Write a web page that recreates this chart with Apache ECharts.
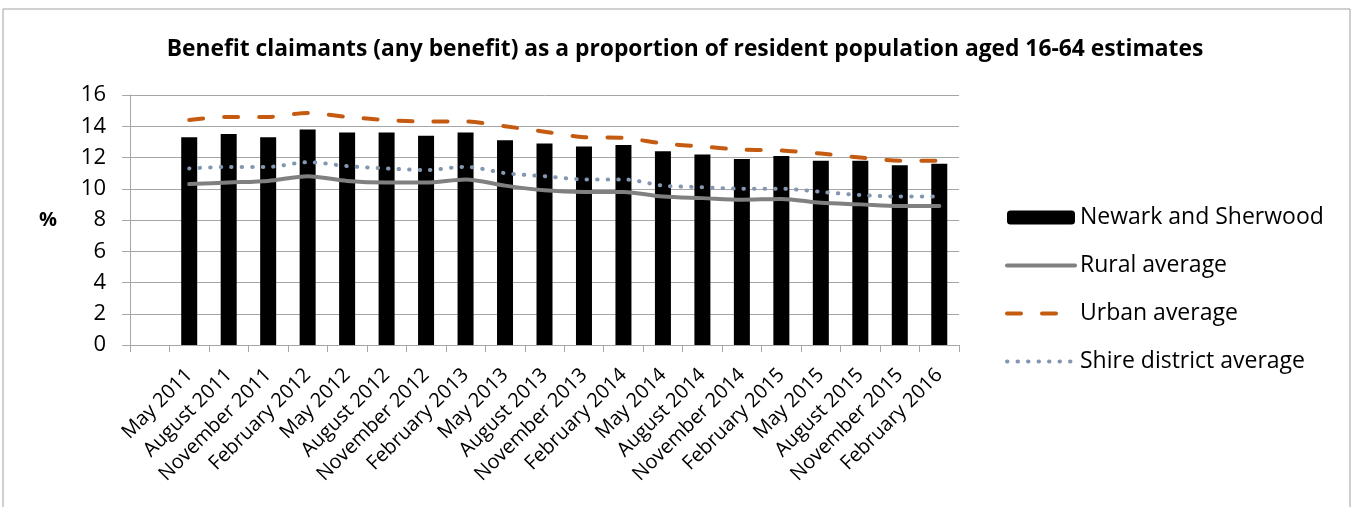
<!DOCTYPE html>
<html>
<head>
<meta charset="utf-8">
<script src="https://cdn.jsdelivr.net/npm/echarts@6/dist/echarts.min.js"></script>
<style>
  html, body { margin: 0; padding: 0; background: #fff; }
  #chart { width: 1354px; height: 507px; }
</style>
</head>
<body>
<div id="chart"></div>
<script>
// first category is left empty in the original chart
const categories = ['', 'May 2011', 'August 2011', 'November 2011', 'February 2012', 'May 2012', 'August 2012',
  'November 2012', 'February 2013', 'May 2013', 'August 2013', 'November 2013', 'February 2014',
  'May 2014', 'August 2014', 'November 2014', 'February 2015', 'May 2015', 'August 2015',
  'November 2015', 'February 2016']

const newarkSherwood = ['-', 13.3, 13.5, 13.3, 13.8, 13.6, 13.6, 13.4, 13.6, 13.1, 12.9, 12.7, 12.8,
  12.4, 12.2, 11.9, 12.1, 11.8, 11.8, 11.5, 11.6]
const ruralAvg = ['-', 10.3, 10.4, 10.5, 10.8, 10.5, 10.4, 10.4, 10.6, 10.2, 9.9, 9.8, 9.8,
  9.5, 9.4, 9.3, 9.35, 9.1, 9.0, 8.9, 8.9]
const urbanAvg = ['-', 14.4, 14.6, 14.6, 14.85, 14.6, 14.4, 14.3, 14.3, 14.0, 13.65, 13.3, 13.25,
  12.9, 12.7, 12.5, 12.45, 12.25, 12.0, 11.8, 11.8]
const shireAvg = ['-', 11.3, 11.4, 11.4, 11.7, 11.45, 11.3, 11.2, 11.4, 11.0, 10.8, 10.6, 10.6,
  10.2, 10.1, 10.0, 10.0, 9.8, 9.6, 9.5, 9.5]

const chart = echarts.init(document.getElementById('chart'))
const font = '"Open Sans", "Liberation Sans", sans-serif'
const gridColor = '#a6a6a6'

const ruralStyle = { color: '#808080', width: 4, cap: 'round' }
const urbanStyle = { color: '#c55a11', width: 4, type: [14, 21], cap: 'round' }
const shireStyle = { color: '#8497b0', width: 4, type: [0.5, 10], cap: 'round' }

const option = {
  animation: false,
  textStyle: { fontFamily: font },
  title: {
    text: 'Benefit claimants (any benefit) as a proportion of resident population aged 16-64 estimates',
    left: 680,
    textAlign: 'center',
    top: 33,
    textStyle: { fontFamily: font, fontWeight: 'bold', fontSize: 22.8, color: '#000' }
  },
  graphic: [{
    type: 'rect',
    shape: { x: 3, y: 9, width: 1347, height: 530 },
    style: { fill: 'none', stroke: '#a0a0a0', lineWidth: 1 },
    silent: true
  }],
  legend: {
    orient: 'vertical',
    left: 1000,
    top: 201,
    itemWidth: 68,
    itemHeight: 14,
    itemGap: 25,
    textStyle: { fontFamily: font, fontSize: 23, color: '#000', lineHeight: 23 },
    data: [
      { name: 'Newark and Sherwood' },
      { name: 'Rural average', itemStyle: { opacity: 0 }, lineStyle: ruralStyle },
      { name: 'Urban average', itemStyle: { opacity: 0 }, lineStyle: urbanStyle },
      { name: 'Shire district average', itemStyle: { opacity: 0 }, lineStyle: shireStyle }
    ]
  },
  grid: { left: 130, right: 395, top: 95, bottom: 162 },
  xAxis: {
    type: 'category',
    data: categories,
    boundaryGap: true,
    axisLine: { lineStyle: { color: gridColor, width: 1 } },
    axisTick: { show: true, alignWithLabel: false, length: 7, lineStyle: { color: gridColor } },
    axisLabel: { interval: 0, rotate: 45, margin: 27, fontSize: 20, color: '#000', fontFamily: font }
  },
  yAxis: {
    type: 'value',
    min: 0,
    max: 16,
    interval: 2,
    name: '%',
    nameLocation: 'middle',
    nameRotate: 0,
    nameGap: 73,
    nameTextStyle: { fontWeight: 'bold', fontSize: 20, color: '#000', fontFamily: font, padding: [8, 0, 0, 0] },
    axisLine: { show: true, lineStyle: { color: gridColor } },
    axisTick: { show: true, length: 8, lineStyle: { color: gridColor } },
    axisLabel: { margin: 24, fontSize: 22, color: '#000', fontFamily: font },
    splitLine: { lineStyle: { color: gridColor, width: 1 } }
  },
  series: [
    {
      name: 'Newark and Sherwood',
      type: 'bar',
      data: newarkSherwood,
      barWidth: 16,
      itemStyle: { color: '#000' }
    },
    {
      name: 'Rural average',
      type: 'line',
      data: ruralAvg,
      smooth: 0.3,
      symbol: 'none',
      lineStyle: ruralStyle,
      itemStyle: { color: '#808080' }
    },
    {
      name: 'Urban average',
      type: 'line',
      data: urbanAvg,
      smooth: 0.3,
      symbol: 'none',
      lineStyle: urbanStyle,
      itemStyle: { color: '#c55a11' }
    },
    {
      name: 'Shire district average',
      type: 'line',
      data: shireAvg,
      smooth: 0.3,
      symbol: 'none',
      lineStyle: shireStyle,
      itemStyle: { color: '#8497b0' }
    }
  ]
}

chart.setOption(option)
</script>
</body>
</html>
